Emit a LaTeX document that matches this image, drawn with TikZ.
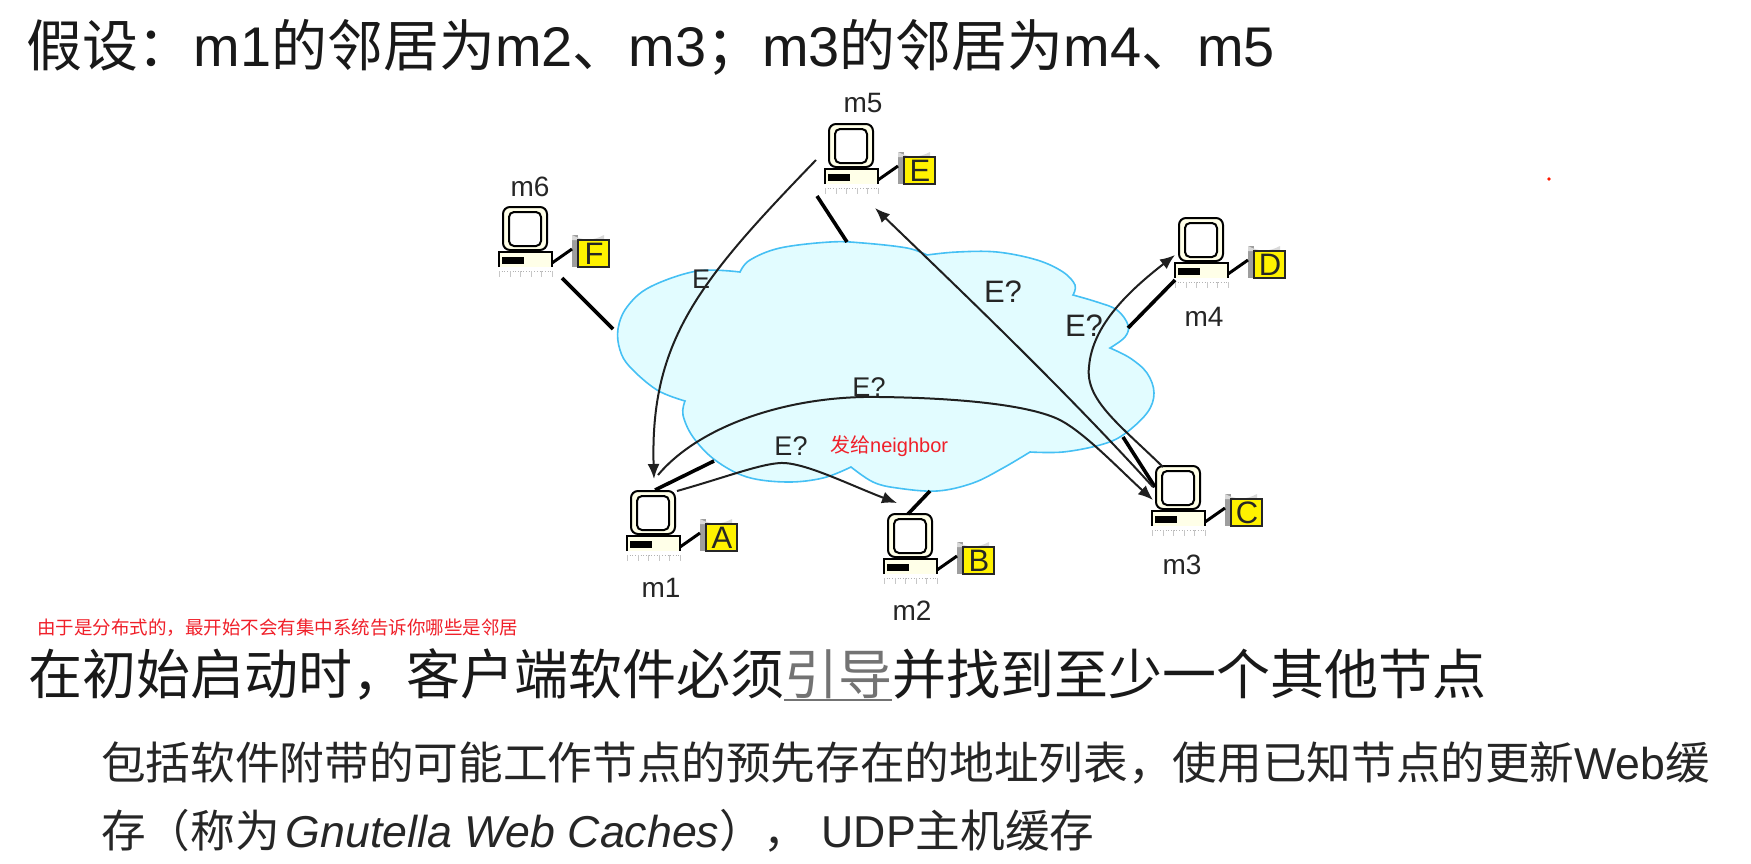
\documentclass[tikz,border=0pt]{standalone}
\usepackage{fontspec}
\setmainfont{Liberation Sans}
\newfontfamily\cjk{Noto Sans CJK SC}
\usetikzlibrary{arrows.meta,calc}
\definecolor{cloudfill}{HTML}{E2FCFF}
\definecolor{cloudline}{HTML}{45C0F4}
\definecolor{pccream}{HTML}{FFFFE8}
\definecolor{inktext}{HTML}{262626}
\definecolor{redtext}{HTML}{F0202A}
\newcommand\cj[1]{{\cjk #1}}
\tikzset{
  cable/.style={line width=3.6pt,black,line cap=butt},
  msg/.style={line width=2pt,draw=black!88,-{Latex[length=15pt,width=12pt]}},
  lbl/.style={font=\fontsize{28}{30}\selectfont,inner sep=0pt,text=inktext},
  lblsmall/.style={font=\fontsize{27}{29}\selectfont,inner sep=0pt,text=inktext},
  lblbig/.style={font=\fontsize{31}{33}\selectfont,inner sep=0pt,text=inktext},
  bigtext/.style={anchor=base west,inner sep=0pt,text=black!90,font=\fontsize{54}{58}\selectfont},
  headtext/.style={anchor=base west,inner sep=0pt,text=black!90,font=\fontsize{55.9}{60}\selectfont},
  subtext/.style={anchor=base west,inner sep=0pt,text=black!85,font=\fontsize{44.65}{48}\selectfont},
  redsmall/.style={inner sep=0pt,text=redtext},
  pcslot/.style={minimum width=44pt,minimum height=43pt,inner sep=0pt,anchor=north west}
}
% name, x, y, letter
\newcommand\pcicon[4]{%
  \begin{scope}[shift={(#2,#3)}]
    \fill[pccream] (-3,44) rectangle (49,60);
    \draw[line width=1.8pt] (-4,60) -- (-4,45) -- (49,45) -- (49,60);
    \fill[black] (-1,50) rectangle (21,57);
    \draw[black!30,line width=0.7pt,dotted] (-4,64) -- (49,64);
    \foreach \tx in {-4,7,17,28,38,49} {\draw[black!22,line width=0.7pt] (\tx,64) -- (\tx,70);}
    \draw[line width=2pt,fill=pccream,rounded corners=7pt] (0,0) rectangle (44,43);
    \draw[line width=2pt,fill=white,rounded corners=5pt] (6,5) rectangle (38,39);
    \node[pcslot] (#1) at (0,0) {};
    \fill[black!38] (69,28) rectangle (75,60);
    \fill[black!15] (69,28) .. controls (80,34) and (90,34) .. (101,28) -- (101,33) -- (69,33) -- cycle;
    \draw[line width=3pt] (49,56) -- (69,42);
    \draw[line width=1.5pt,black!85,fill=yellow] (75,33) rectangle (106,60);
    \node[lblbig,text=black!85] at (91,47) {#4};
  \end{scope}}
\begin{document}
\begin{tikzpicture}[x=1pt,y=-1pt]
\useasboundingbox (0,0) rectangle (1751,863);
\fill[white] (0,0) rectangle (1751,863);

% texts
\node[headtext] (t1) at (26,66) {\cj{假设：}m1\cj{的邻居为}m2\cj{、}m3\cj{；}m3\cj{的邻居为}m4\cj{、}m5};
\node[redsmall,anchor=base west,font=\fontsize{18.5}{20}\selectfont] (t2) at (37,634) {\cj{由于是分布式的，最开始不会有集中系统告诉你哪些是邻居}};
\node[bigtext] (t3) at (28,694) {\cj{在初始启动时，客户端软件必须}{\color{black!55}\rlap{\rule[-7pt]{108pt}{2pt}}\cj{引导}}\cj{并找到至少一个其他节点}};
\node[subtext] (t4) at (101,779) {\cj{包括软件附带的可能工作节点的预先存在的地址列表，使用已知节点的更新}Web\cj{缓}};
\node[subtext] (t5) at (101,847) {\cj{存（称为}\hspace{6pt}\textit{Gnutella Web Caches}\cj{），}\hspace{13pt}UDP\cj{主机缓存}};

% cloud
\draw[cloudline,line width=1.6pt,fill=cloudfill,line join=miter]
  plot[smooth,tension=0.6] coordinates {(740,272) (697,271) (650,287) (627,307) (618,329) (620,350) (630,367) (657,390) (685,401)}
  -- plot[smooth,tension=0.6] coordinates {(685,401) (683,415) (693,437) (715,460) (747,477) (787,482) (823,478) (851,467)}
  -- plot[smooth,tension=0.6] coordinates {(851,467) (873,482) (897,488) (937,491) (973,483) (1003,468) (1030,452)}
  -- plot[smooth,tension=0.6] coordinates {(1030,452) (1063,452) (1100,445) (1123,435) (1147,413) (1154,393) (1147,373) (1130,358) (1110,348)}
  -- plot[smooth,tension=0.6] coordinates {(1110,348) (1125,337) (1128,325) (1117,310) (1097,302) (1073,295)}
  -- plot[smooth,tension=0.6] coordinates {(1073,295) (1075,285) (1063,272) (1037,260) (997,252) (957,252) (927,255)}
  -- plot[smooth,tension=0.6] coordinates {(927,255) (907,248) (863,243) (830,242) (780,248) (750,260) (740,272)}
  -- cycle;

% computers
\pcicon{m1}{631}{491}{A}
\pcicon{m2}{888}{514}{B}
\pcicon{m3}{1156}{466}{C}
\pcicon{m4}{1179}{218}{D}
\pcicon{m5}{829}{124}{E}
\pcicon{m6}{503}{207}{F}

% names
\node[lbl] (n1) at (661,588) {m1};
\node[lbl] (n2) at (912,611) {m2};
\node[lbl] (n3) at (1182,565) {m3};
\node[lbl] (n4) at (1204,317) {m4};
\node[lbl] (n5) at (863,103) {m5};
\node[lbl] (n6) at (530,187) {m6};

% free ends of the cables on the cloud
\coordinate (c1) at (714,461);
\coordinate (c2) at (930,491);
\coordinate (c3) at (1123,437);
\coordinate (c4) at (1128,328);
\coordinate (c5) at (847,242);
\coordinate (c6) at (613,329);

\draw[cable] ([shift={(24,-1)}]m1.north west) -- (c1);
\draw[cable] ([shift={(20,0)}]m2.north west) -- (c2);
\draw[cable] ([shift={(-1,21)}]m3.north west) -- (c3);
\draw[cable] ([shift={(-4,62)}]m4.north west) -- (c4);
\draw[cable] ([shift={(-12,72)}]m5.north west) -- (c5);
\draw[cable] ([shift={(59,71)}]m6.north west) -- (c6);

% messages
\draw[msg] ([shift={(-13,36)}]m5.north west) .. controls (700,280) and (650,340) .. ([shift={(23,-12)}]m1.north west);
\draw[msg] ([shift={(27,-16)}]m1.north west) .. controls (700,425) and (790,395) .. (880,397) .. controls (960,398) and (1030,405) .. (1060,420) .. controls (1085,433) and (1120,470) .. ([shift={(-3,34)}]m3.north west);
\draw[msg] ([shift={(46,0)}]m1.north west) .. controls (730,476) and (765,462) .. (785,463) .. controls (810,465) and (850,485) .. ([shift={(9,-11)}]m2.north west);
\draw[msg] ([shift={(-3,21)}]m3.north west) .. controls (1060,385) and (960,290) .. ([shift={(46,84)}]m5.north west);
\draw[msg] ([shift={(7,1)}]m3.north west) .. controls (1120,425) and (1085,400) .. (1089,367) .. controls (1092,325) and (1130,290) .. ([shift={(-4,37)}]m4.north west);

% message labels
\node[lblsmall] (l1) at (701,279) {E};
\node[lblsmall] (l2) at (869,387) {E?};
\node[lblsmall] (l3) at (791,446) {E?};
\node[lblbig] (l4) at (1003,292) {E?};
\node[lblbig] (l5) at (1084,326) {E?};
\node[redsmall,anchor=west,font=\fontsize{20}{22}\selectfont] (l6) at (830,446) {\cj{发给}neighbor};

\fill[red!80!orange] (1549,179) circle (1.8);
\end{tikzpicture}
\end{document}
